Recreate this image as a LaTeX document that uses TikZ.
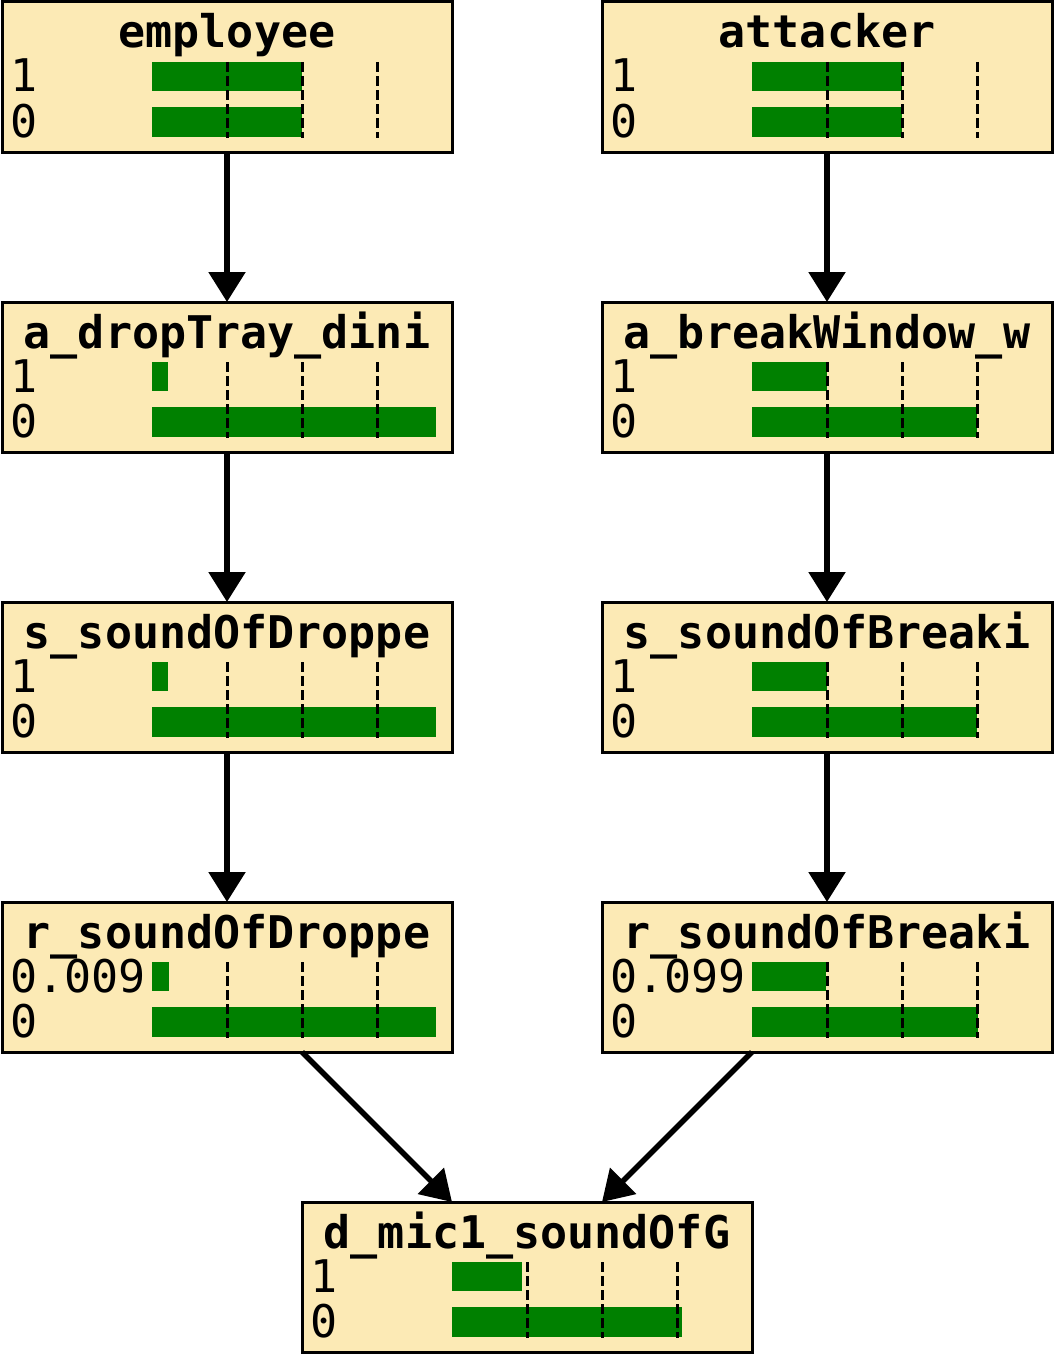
\documentclass[tikz,border=0pt]{standalone}
\usepackage{fontspec}
\setmonofont{DejaVu Sans Mono}
\usetikzlibrary{arrows.meta}
\definecolor{boxfill}{RGB}{252,234,181}
\definecolor{bargreen}{RGB}{0,128,0}
\tikzset{
  bnbox/.style={draw=black, line width=3pt, fill=boxfill, minimum width=450pt, minimum height=150pt, inner sep=0pt, outer sep=0pt},
  titletext/.style={inner sep=0pt, font=\fontsize{45}{50}\selectfont\ttfamily\bfseries},
  vallabel/.style={inner sep=0pt, font=\fontsize{45}{50}\selectfont\ttfamily},
  barfill/.style={fill=bargreen},
  ticklines/.style={draw=black, line width=3pt, dash pattern=on 10pt off 4pt},
  edge/.style={draw=black, line width=5.5pt, -{Triangle[width=36pt,length=30pt]}}
}
\newcommand\bnnode[8]{%
  \node[bnbox, anchor=north west] (#1) at (#2,#3) {};
  \node[titletext, anchor=base] (#1-t) at (#2+225,#3+46) {#4};
  \node[vallabel, anchor=base west] (#1-a) at (#2+8,#3+90) {#5};
  \node[vallabel, anchor=base west] (#1-b) at (#2+8,#3+135) {0};
  \fill[barfill] (#2+150,#3+60) rectangle (#2+150+300*#6,#3+89);
  \fill[barfill] (#2+150,#3+105) rectangle (#2+150+300*#7,#3+135);
  \foreach \k in {1,2,3} {\draw[ticklines] (#2+150+75*\k,#3+60) -- (#2+150+75*\k,#3+136);}
  #8%
}
\begin{document}
\begin{tikzpicture}[x=1pt,y=-1pt]
\useasboundingbox (0,0) rectangle (1054,1354);
\bnnode{emp}{2}{2}{employee}{1}{0.5}{0.5}{}
\bnnode{att}{602}{2}{attacker}{1}{0.5}{0.5}{}
\bnnode{drop}{2}{302}{a\_dropTray\_dini}{1}{0.053}{0.947}{}
\bnnode{brk}{602}{302}{a\_breakWindow\_w}{1}{0.25}{0.75}{}
\bnnode{sdrop}{2}{602}{s\_soundOfDroppe}{1}{0.053}{0.947}{}
\bnnode{sbrk}{602}{602}{s\_soundOfBreaki}{1}{0.25}{0.75}{}
\bnnode{rdrop}{2}{902}{r\_soundOfDroppe}{0.009}{0.055}{0.945}{}
\bnnode{rbrk}{602}{902}{r\_soundOfBreaki}{0.099}{0.247}{0.753}{}
\bnnode{mic}{302}{1202}{d\_mic1\_soundOfG}{1}{0.233}{0.767}{}
\draw[edge] (emp.south) -- (drop.north);
\draw[edge] (drop.south) -- (sdrop.north);
\draw[edge] (sdrop.south) -- (rdrop.north);
\draw[edge] (att.south) -- (brk.north);
\draw[edge] (brk.south) -- (sbrk.north);
\draw[edge] (sbrk.south) -- (rbrk.north);
\draw[edge] ([xshift=75pt]rdrop.south) -- ([xshift=-75pt]mic.north);
\draw[edge] ([xshift=-75pt]rbrk.south) -- ([xshift=75pt]mic.north);
\end{tikzpicture}
\end{document}
